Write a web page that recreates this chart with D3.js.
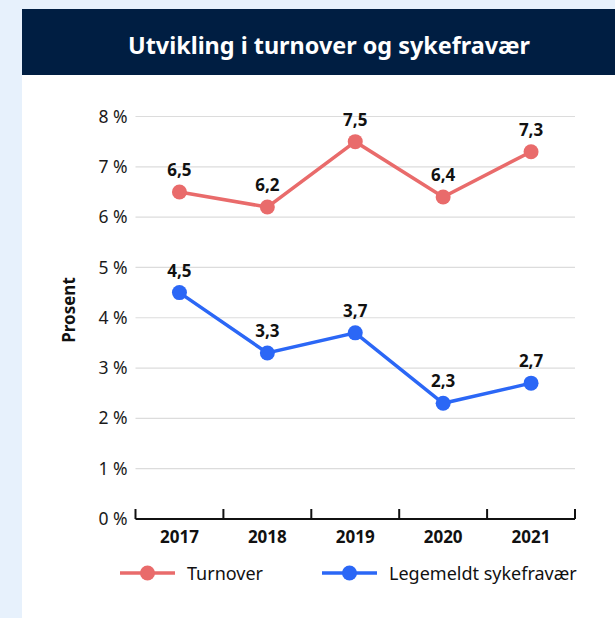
<!DOCTYPE html>
<html lang="no">
<head>
<meta charset="utf-8">
<script src="https://cdn.jsdelivr.net/npm/d3@7"></script>
<style>
  html, body { margin: 0; padding: 0; background: #e7f1fc; }
  svg { display: block; font-family: "Noto Sans", "Open Sans", sans-serif; }
</style>
</head>
<body>
<svg id="chart" width="615" height="618"></svg>
<script>
// Year categories and the two series (percent)
const years = ["2017", "2018", "2019", "2020", "2021"];
const turnover = [6.5, 6.2, 7.5, 6.4, 7.3];
const sykefravaer = [4.5, 3.3, 3.7, 2.3, 2.7];
const yTicks = [0, 1, 2, 3, 4, 5, 6, 7, 8];
const seriesNames = ["Turnover", "Legemeldt sykefravær"];
const seriesColors = ["#e96b6b", "#2b67f6"];
const titleText = "Utvikling i turnover og sykefravær";
const yTitle = "Prosent";

const svg = d3.select("#chart");
const W = 615, H = 618;

// card + title bar
svg.append("rect").attr("x", 22).attr("y", 9).attr("width", W - 22).attr("height", H - 9).attr("fill", "#ffffff");
svg.append("rect").attr("x", 22).attr("y", 9).attr("width", W - 22).attr("height", 66).attr("fill", "#001e42");
svg.append("text")
  .attr("x", 329).attr("y", 54)
  .attr("text-anchor", "middle")
  .attr("fill", "#ffffff")
  .attr("font-size", 24)
  .attr("font-weight", 700)
  .attr("textLength", 402)
  .attr("lengthAdjust", "spacingAndGlyphs")
  .text(titleText);

const x = d3.scaleBand().domain(years).range([135.5, 575]);
const y = d3.scaleLinear().domain([0, 8]).range([519, 116.5]);

// horizontal grid
svg.append("g")
  .selectAll("line")
  .data(yTicks.filter(d => d > 0))
  .join("line")
  .attr("x1", 135.5).attr("x2", 575)
  .attr("y1", d => y(d)).attr("y2", d => y(d))
  .attr("stroke", "#dcdcdc").attr("stroke-width", 1.2);

// y axis labels
const yAxis = d3.axisLeft(y).tickValues(yTicks).tickSize(0).tickPadding(8)
  .tickFormat(d => d + " %");
const gy = svg.append("g").attr("transform", "translate(135.5,0)").call(yAxis);
gy.select(".domain").remove();
gy.selectAll("text").attr("font-size", 17.5).attr("fill", "#1a1a1a")
  .attr("font-family", "'Noto Sans', sans-serif");

// x axis with upward ticks at band edges
const xAxisLine = svg.append("g").attr("transform", `translate(0,${y(0)})`);
xAxisLine.append("line").attr("x1", x.range()[0]).attr("x2", x.range()[1])
  .attr("stroke", "#111").attr("stroke-width", 2);
const edges = years.map(d => x(d)).concat([x.range()[1]]);
xAxisLine.selectAll("line.tick").data(edges).join("line").attr("class", "tick")
  .attr("x1", d => d).attr("x2", d => d).attr("y1", 0).attr("y2", -10)
  .attr("stroke", "#111").attr("stroke-width", 2);
xAxisLine.selectAll("text").data(years).join("text")
  .attr("x", d => x(d) + x.bandwidth() / 2).attr("y", 24)
  .attr("text-anchor", "middle").attr("font-size", 17).attr("font-weight", 700)
  .attr("fill", "#111").text(d => d);

// y title
svg.append("text")
  .attr("transform", "translate(75,310) rotate(-90)")
  .attr("text-anchor", "middle").attr("font-size", 17).attr("font-weight", 700)
  .attr("fill", "#111").text(yTitle);

const cx = d => x(d) + x.bandwidth() / 2;
const line = d3.line().x((d, i) => cx(years[i])).y(d => y(d));

[turnover, sykefravaer].forEach((vals, s) => {
  const g = svg.append("g");
  g.append("path").attr("d", line(vals)).attr("fill", "none")
    .attr("stroke", seriesColors[s]).attr("stroke-width", 3.5);
  g.selectAll("circle").data(vals).join("circle")
    .attr("cx", (d, i) => cx(years[i])).attr("cy", d => y(d)).attr("r", 7.5)
    .attr("fill", seriesColors[s]);
  g.selectAll("text").data(vals).join("text")
    .attr("x", (d, i) => cx(years[i])).attr("y", d => y(d) - 16)
    .attr("text-anchor", "middle").attr("font-size", 17).attr("font-weight", 700)
    .attr("fill", "#111").text(d => d3.format(".1f")(d).replace(".", ","));
});

// legend
const legend = svg.append("g").attr("transform", "translate(0,573)");
const legendX = [120, 322];
seriesNames.forEach((name, s) => {
  const lg = legend.append("g").attr("transform", `translate(${legendX[s]},0)`);
  lg.append("line").attr("x1", 0).attr("x2", 55).attr("y1", 0).attr("y2", 0)
    .attr("stroke", seriesColors[s]).attr("stroke-width", 3.5);
  lg.append("circle").attr("cx", 27.5).attr("cy", 0).attr("r", 7.5).attr("fill", seriesColors[s]);
  lg.append("text").attr("x", 67).attr("y", 6.5).attr("font-size", 18)
    .attr("fill", "#111").text(name);
});
</script>
</body>
</html>
